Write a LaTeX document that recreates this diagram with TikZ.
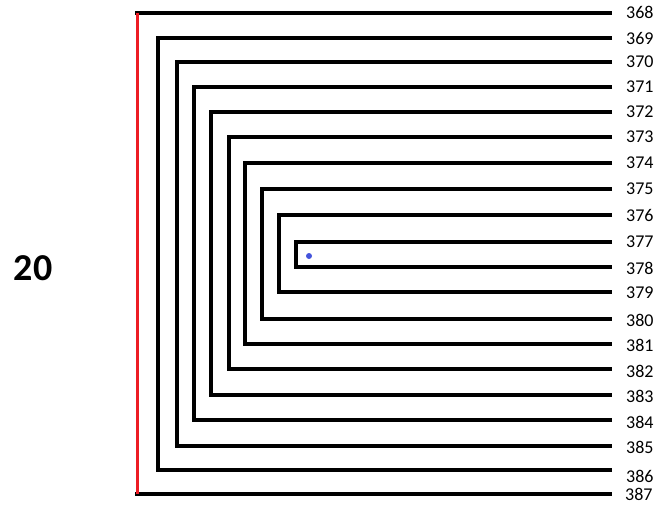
\documentclass[tikz,border=0pt]{standalone}
\usepackage{fontspec}
\setmainfont{Carlito}
\usetikzlibrary{positioning}
\definecolor{edgered}{RGB}{237,28,36}
\definecolor{dotblue}{RGB}{68,84,220}
\tikzstyle{bar} = [line width=4.2pt, draw=black, line join=miter]
\tikzstyle{redbar} = [line width=3.5pt, draw=edgered]
\tikzstyle{num} = [anchor=west, inner sep=0pt, font=\fontsize{18}{18}\selectfont]

\begin{document}
\begin{tikzpicture}[x=1pt, y=-1pt]
  \useasboundingbox (0,0) rectangle (657,506);

  % outer level, red side
  \coordinate (tl0) at (135,13);
  \coordinate (tr0) at (612,13);
  \coordinate (bl0) at (135,494);
  \coordinate (br0) at (612,494);
  \coordinate (rt0) at (137.5,13);
  \coordinate (rb0) at (137.5,494);
  \draw[bar] (tl0) -- (tr0);
  \draw[bar] (bl0) -- (br0);
  \draw[redbar] (rt0) -- (rb0);
  \node[num] (n368) at (626,12) {368};
  \node[num] (n387) at (625,494) {387};

  % inner levels
  \foreach \k/\lx/\ty/\by/\tn/\bn/\bly in {
      1/158/38/470/369/386/476,
      2/177/62/446/370/385/447,
      3/194/87/420/371/384/422,
      4/211/112/395/372/383/396,
      5/229/137/369/373/382/371,
      6/245/163/344/374/381/345,
      7/262/189/319/375/380/320,
      8/279/215/292/376/379/293,
      9/296/242/267/377/378/268}{
    \coordinate (tr\k) at (612,\ty);
    \coordinate (tl\k) at (\lx,\ty);
    \coordinate (bl\k) at (\lx,\by);
    \coordinate (br\k) at (612,\by);
    \draw[bar] (tr\k) -- (tl\k) -- (bl\k) -- (br\k);
    \node[num] (n\tn) at (626,\ty) {\tn};
    \node[num] (n\bn) at (626,\bly) {\bn};
  }

  \fill[dotblue] (309,256) circle (3pt);
  \node[font=\fontsize{38}{38}\selectfont\bfseries] (count) at (33,268) {20};
\end{tikzpicture}
\end{document}
